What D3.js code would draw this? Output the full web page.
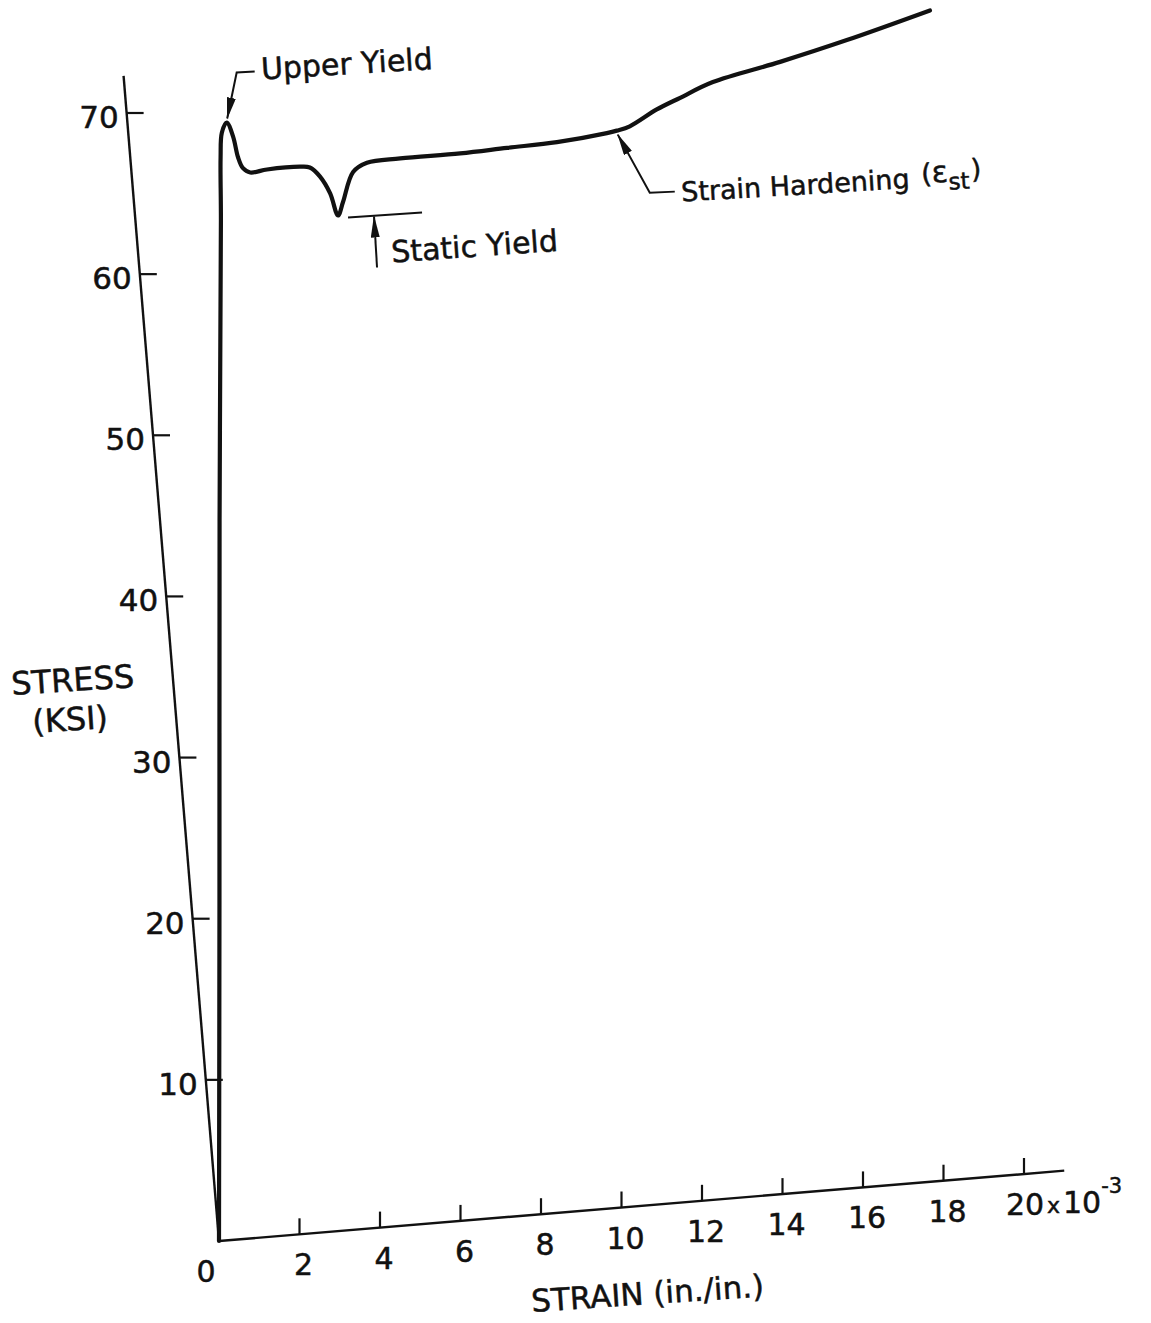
<!DOCTYPE html>
<html>
<head>
<meta charset="utf-8">
<script src="https://cdn.jsdelivr.net/npm/d3@7"></script>
<style>
    body { margin: 0; background: #fff; }
    svg { display: block; }
    text { font-family: "DejaVu Sans", sans-serif; fill: #111; stroke: #111; stroke-width: 0.5; }
</style>
</head>
<body>
<div id="chart"></div>
<script>
// strain in 10^-3 in./in., stress in ksi
var strain = [0, 0.70, 1.47, 2.11, 2.23, 2.31, 2.45, 2.58, 2.66, 2.76, 2.93, 3.35, 4.17, 4.41, 4.64, 4.86, 5.01, 5.16, 5.47, 5.83, 6.66, 8.15, 9.32, 10.56, 11.81, 12.06, 12.39, 13.09, 13.69, 14.53, 16.23, 17.92, 20.03];
var stress = [0, 21.0, 44.4, 62.9, 66.8, 68.3, 68.9, 68.0, 66.7, 66.0, 65.7, 65.8, 65.8, 65.7, 65.1, 64.0, 62.6, 63.4, 65.2, 65.7, 65.8, 65.8, 65.9, 66.0, 66.3, 66.4, 66.6, 67.5, 68.1, 68.9, 69.8, 70.8, 72.2];

var strainTicks = [0, 2, 4, 6, 8, 10, 12, 14, 16, 18, 20];
var stressTicks = [10, 20, 30, 40, 50, 60, 70];

var notes = [
    { label: "Upper Yield", s: 2.45, f: 68.9 },
    { label: "Static Yield", s: 5.01, f: 62.6 },
    { label: "Strain Hardening", s: 12.06, f: 66.4 }
];

var width = 1151, height = 1323;
var ox = 219, oy = 1241;

var x = d3.scaleLinear().domain([0, 20]).range([0, 805]);
var y = d3.scaleLinear().domain([0, 70]).range([0, 1128]);

// the scanned sheet is skewed: strain axis climbs, stress axis leans left
function project(s, f) {
    return [ox + x(s) - 0.0819 * y(f), oy - 0.0832 * x(s) - y(f)];
}

var svg = d3.select("#chart").append("svg")
    .attr("width", width)
    .attr("height", height);

svg.append("defs").append("marker")
    .attr("id", "arrow")
    .attr("viewBox", "0 0 22 9")
    .attr("refX", 21)
    .attr("refY", 4.5)
    .attr("markerWidth", 22)
    .attr("markerHeight", 9)
    .attr("markerUnits", "userSpaceOnUse")
    .attr("orient", "auto")
    .append("path")
    .attr("d", "M0,0L22,4.5L0,9Z")
    .attr("fill", "#111");

var ink = "#111";

// axes
var o = project(0, 0), yTop = project(0, 72.3), xEnd = project(21, 0);
svg.append("line")
    .attr("x1", o[0]).attr("y1", o[1]).attr("x2", yTop[0]).attr("y2", yTop[1])
    .attr("stroke", ink).attr("stroke-width", 2.4);
svg.append("line")
    .attr("x1", o[0]).attr("y1", o[1]).attr("x2", xEnd[0]).attr("y2", xEnd[1])
    .attr("stroke", ink).attr("stroke-width", 2.4);

svg.selectAll(".xtick").data(strainTicks.slice(1)).enter().append("line")
    .attr("class", "xtick")
    .attr("x1", function(d) { return project(d, 0)[0]; })
    .attr("y1", function(d) { return project(d, 0)[1]; })
    .attr("x2", function(d) { return project(d, 0)[0]; })
    .attr("y2", function(d) { return project(d, 0)[1] - 16; })
    .attr("stroke", ink).attr("stroke-width", 2.2);

svg.selectAll(".ytick").data(stressTicks).enter().append("line")
    .attr("class", "ytick")
    .attr("x1", function(d) { return project(0, d)[0]; })
    .attr("y1", function(d) { return project(0, d)[1]; })
    .attr("x2", function(d) { return project(0, d)[0] + 17; })
    .attr("y2", function(d) { return project(0, d)[1]; })
    .attr("stroke", ink).attr("stroke-width", 2.2);

svg.selectAll(".xlab").data(strainTicks).enter().append("text")
    .attr("class", "xlab")
    .attr("x", function(d) { return project(d, 0)[0] + (d === 0 ? -13 : (d === 20 ? 1 : 4)); })
    .attr("y", function(d) { return project(d, 0)[1] + 41; })
    .attr("text-anchor", "middle")
    .attr("font-size", 30)
    .text(function(d) { return d; });

var e20 = project(20, 0);
var sfx = svg.append("text")
    .attr("x", e20[0] + 23)
    .attr("y", e20[1] + 39)
    .attr("font-size", 30);
sfx.append("tspan").attr("font-size", 22).text("x");
sfx.append("tspan").attr("dx", 3).text("10");
sfx.append("tspan").attr("dy", -20).attr("font-size", 21).text("-3");

svg.selectAll(".ylab").data(stressTicks).enter().append("text")
    .attr("class", "ylab")
    .attr("x", function(d) { return project(0, d)[0] - 8; })
    .attr("y", function(d) { return project(0, d)[1] + 15; })
    .attr("text-anchor", "end")
    .attr("font-size", 31)
    .text(function(d) { return d; });

// axis titles
svg.append("text")
    .attr("transform", "translate(12,695) rotate(-3.7)")
    .attr("font-size", 32)
    .text("STRESS");
svg.append("text")
    .attr("transform", "translate(33,733) rotate(-3.7)")
    .attr("font-size", 32)
    .text("(KSI)");
svg.append("text")
    .attr("transform", "translate(532,1312) rotate(-3.8)")
    .attr("font-size", 31)
    .text("STRAIN (in./in.)");

// stress-strain curve
var pts = strain.map(function(s, i) { return [s, stress[i]]; });
var line = d3.line()
    .x(function(d) { return project(d[0], d[1])[0]; })
    .y(function(d) { return project(d[0], d[1])[1]; })
    .curve(d3.curveCatmullRom.alpha(0.5));

svg.append("path")
    .datum(pts)
    .attr("d", line)
    .attr("fill", "none")
    .attr("stroke", ink)
    .attr("stroke-width", 4.2)
    .attr("stroke-linejoin", "round")
    .attr("stroke-linecap", "round");

// annotations
var up = project(notes[0].s, notes[0].f);
svg.append("path")
    .attr("d", "M" + (up[0] + 28) + "," + (up[1] - 51) + "L" + (up[0] + 10) + "," + (up[1] - 50) + "L" + (up[0] + 0.5) + "," + (up[1] - 4))
    .attr("fill", "none").attr("stroke", ink).attr("stroke-width", 2)
    .attr("marker-end", "url(#arrow)");
svg.append("text")
    .attr("transform", "translate(" + (up[0] + 35) + "," + (up[1] - 43) + ") rotate(-3.5)")
    .attr("font-size", 30)
    .text(notes[0].label);

var sy = project(notes[1].s, notes[1].f);
svg.append("line")
    .attr("x1", sy[0] + 10).attr("y1", sy[1] + 2).attr("x2", sy[0] + 84).attr("y2", sy[1] - 3)
    .attr("stroke", ink).attr("stroke-width", 2);
svg.append("line")
    .attr("x1", sy[0] + 39).attr("y1", sy[1] + 52).attr("x2", sy[0] + 36).attr("y2", sy[1] + 1)
    .attr("stroke", ink).attr("stroke-width", 2)
    .attr("marker-end", "url(#arrow)");
svg.append("text")
    .attr("transform", "translate(" + (sy[0] + 54) + "," + (sy[1] + 47) + ") rotate(-4)")
    .attr("font-size", 30)
    .text(notes[1].label);

var sh = project(notes[2].s, notes[2].f);
svg.append("path")
    .attr("d", "M" + (sh[0] + 58) + "," + (sh[1] + 61) + "L" + (sh[0] + 33) + "," + (sh[1] + 62) + "L" + (sh[0] + 1) + "," + (sh[1] + 4))
    .attr("fill", "none").attr("stroke", ink).attr("stroke-width", 2)
    .attr("marker-end", "url(#arrow)");
var shText = svg.append("text")
    .attr("transform", "translate(" + (sh[0] + 65) + "," + (sh[1] + 71) + ") rotate(-3.4)")
    .attr("font-size", 27);
shText.append("tspan").text(notes[2].label);
shText.append("tspan").attr("dx", 12).attr("dy", -4).text("(");
shText.append("tspan").attr("font-size", 30).text("\u03b5");
shText.append("tspan").attr("dy", 8).attr("font-size", 23).text("st");
shText.append("tspan").attr("dy", -10).attr("dx", 2).text(")");
</script>
</body>
</html>
